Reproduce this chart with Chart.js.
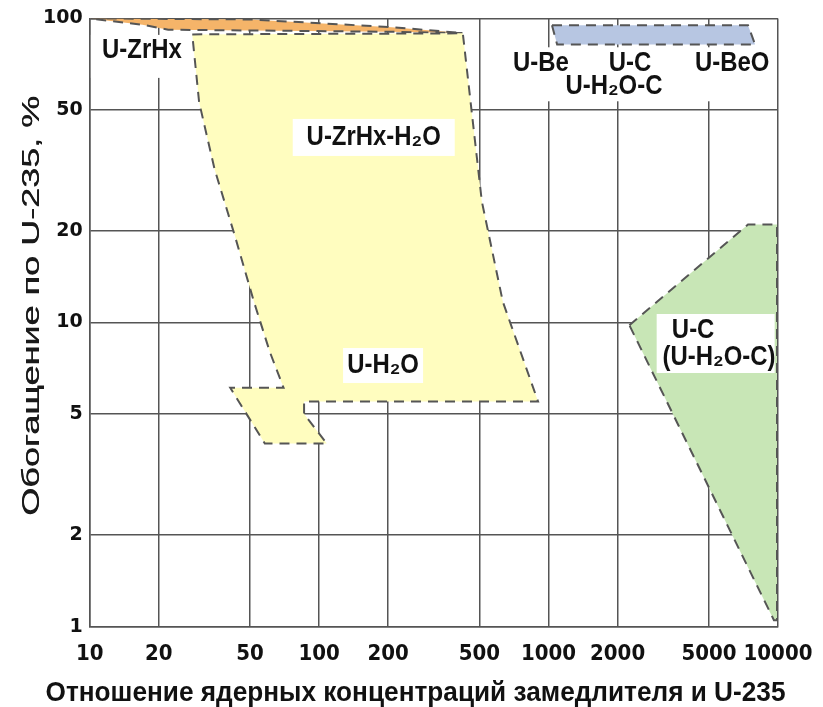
<!DOCTYPE html>
<html>
<head>
<meta charset="utf-8">
<script src="https://cdn.jsdelivr.net/npm/chart.js@4"></script>
<style>
html,body{margin:0;padding:0;background:#fff;}
</style>
</head>
<body>
<canvas id="chart" width="823" height="707"></canvas>
<script>
// axis ticks
const xTicks = [10, 20, 50, 100, 200, 500, 1000, 2000, 5000, 10000];
const yTicks = [1, 2, 5, 10, 20, 50, 100];

// regions: moderator/U-235 ratio (x) vs enrichment % (y)
const zrhxX = [10, 50, 207, 423, 200, 22, 17, 10];
const zrhxY = [100, 99.2, 93.6, 89.5, 90.4, 91.8, 95.3, 100];

const waterX = [28, 423, 512, 632, 900, 86, 86, 108, 58, 41, 70, 61, 52, 43, 35, 30, 28];
const waterY = [88.6, 89.3, 25, 11.7, 5.5, 5.5, 5.0, 4.0, 4.0, 6.1, 6.1, 8.0, 11.7, 19.2, 32, 53, 88.6];

const berylX = [1035, 7400, 7950, 1090, 1035];
const berylY = [95, 95, 82, 82, 95];

const carbonX = [2250, 7400, 9900, 9900, 9600, 2250];
const carbonY = [9.8, 21, 21, 1.05, 1.05, 9.8];

// region captions (data coords)
const labels = [
  { text: 'U-ZrHx', x: 16.9, y: 78.5 },
  { text: 'U-ZrHx-H₂O', x: 173, y: 40.6 },
  { text: 'U-H₂O', x: 190, y: 7.22 },
  { text: 'U-Be', x: 927, y: 71.1 },
  { text: 'U-C', x: 2265, y: 71.1 },
  { text: 'U-BeO', x: 6315, y: 71.1 },
  { text: 'U-H₂O-C', x: 1928, y: 59.7 },
  { text: 'U-C', x: 4266, y: 9.42 },
  { text: '(U-H₂O-C)', x: 5535, y: 7.67 }
];
// white boxes behind captions: center in data coords, size in px
const boxes = [
  { x: 15.9, y: 75, w: 90, h: 43 },
  { x: 173, y: 40.6, w: 162, h: 37 },
  { x: 190, y: 7.22, w: 80, h: 35 },
  { x: 2553, y: 65.5, w: 265, h: 54 },
  { x: 5350, y: 8.53, w: 118, h: 59 }
];

const xTitle = 'Отношение ядерных концентраций замедлителя и U-235';
const yTitle = 'Обогащение по U-235, %';

function pts(xs, ys) { return xs.map((x, i) => ({ x: x, y: ys[i] })); }

function region(data, color) {
  return {
    data: data,
    showLine: true,
    fill: 'shape',
    backgroundColor: color,
    borderColor: '#555',
    borderWidth: 2,
    borderDash: [10, 7],
    pointRadius: 0,
    tension: 0
  };
}

const captions = {
  id: 'captions',
  afterDatasetsDraw(chart) {
    const ctx = chart.ctx, sx = chart.scales.x, sy = chart.scales.y;
    ctx.save();
    ctx.fillStyle = '#fff';
    boxes.forEach(b => {
      const px = sx.getPixelForValue(b.x), py = sy.getPixelForValue(b.y);
      ctx.fillRect(px - b.w / 2, py - b.h / 2, b.w, b.h);
    });
    ctx.fillStyle = '#111';
    ctx.textAlign = 'center';
    ctx.textBaseline = 'middle';
    ctx.font = 'bold 26px "Liberation Sans", Arial, sans-serif';
    labels.forEach(l => {
      const px = sx.getPixelForValue(l.x), py = sy.getPixelForValue(l.y);
      ctx.save();
      ctx.translate(px, py);
      ctx.scale(0.92, 1.08);
      ctx.fillText(l.text, 0, 0);
      ctx.restore();
    });
    ctx.restore();
  },
  afterDraw(chart) {
    const ctx = chart.ctx;
    ctx.save();
    ctx.fillStyle = '#111';
    ctx.textAlign = 'center';
    ctx.textBaseline = 'alphabetic';
    // x title
    ctx.font = 'bold 25px "Liberation Sans", Arial, sans-serif';
    let w = ctx.measureText(xTitle).width;
    ctx.save();
    ctx.translate(chart.width / 2 + 4, chart.height - 6);
    ctx.scale(740 / w, 1.1);
    ctx.fillText(xTitle, 0, 0);
    ctx.restore();
    // y title
    ctx.fillStyle = '#1a1a1a';
    ctx.font = '23px "Liberation Sans", Arial, sans-serif';
    w = ctx.measureText(yTitle).width;
    ctx.save();
    ctx.translate(39, 306);
    ctx.rotate(-Math.PI / 2);
    ctx.scale(420 / w, 1);
    ctx.fillText(yTitle, 0, 0);
    ctx.fillText(yTitle, 0.4, 0);
    ctx.restore();
    ctx.restore();
  }
};

const gridColor = '#555';

new Chart(document.getElementById('chart'), {
  type: 'scatter',
  data: {
    datasets: [
      region(pts(waterX, waterY), '#fffdbf'),
      region(pts(zrhxX, zrhxY), '#f5b469'),
      region(pts(berylX, berylY), '#b7c6e2'),
      region(pts(carbonX, carbonY), '#c8e6b6')
    ]
  },
  options: {
    responsive: false,
    animation: false,
    devicePixelRatio: 1,
    layout: { padding: { left: 36, right: 45, top: 15, bottom: 26 } },
    plugins: { legend: { display: false }, tooltip: { enabled: false } },
    scales: {
      x: {
        type: 'logarithmic', min: 10, max: 10000,
        afterBuildTicks: s => { s.ticks = xTicks.map(v => ({ value: v })); },
        afterFit: s => { s.paddingLeft = 0; s.paddingRight = 0; },
        ticks: {
          callback: v => String(v), autoSkip: false, maxRotation: 0, padding: 14, color: '#111',
          font: { family: '"DejaVu Sans Condensed", sans-serif', size: 22, weight: 'bold' }
        },
        grid: { color: gridColor, lineWidth: 1.5, drawTicks: false },
        border: { color: gridColor, width: 1.5 }
      },
      y: {
        type: 'logarithmic', min: 1, max: 100,
        afterBuildTicks: s => { s.ticks = yTicks.map(v => ({ value: v })); },
        ticks: {
          callback: v => String(v), autoSkip: false, padding: 7, color: '#111',
          font: { family: '"DejaVu Sans", sans-serif', size: 19, weight: 'bold' }
        },
        grid: { color: gridColor, lineWidth: 1.5, drawTicks: false },
        border: { color: gridColor, width: 1.5 }
      }
    }
  },
  plugins: [captions]
});
</script>
</body>
</html>
